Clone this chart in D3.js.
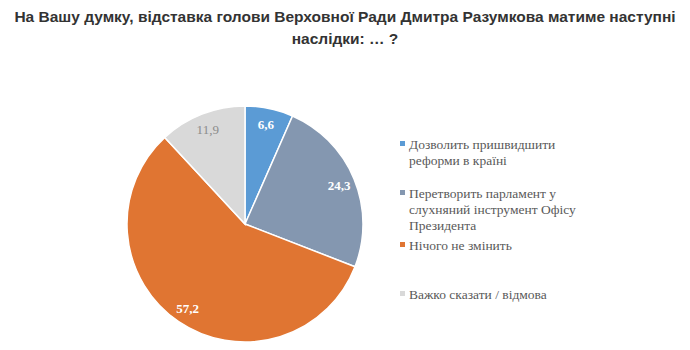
<!DOCTYPE html>
<html><head><meta charset="utf-8">
<script src="https://cdn.jsdelivr.net/npm/d3@7"></script>
<style>body{margin:0;background:#fff}</style>
</head><body>
<svg id="chart" width="690" height="350"></svg>
<script>
const categories = ["Дозволить пришвидшити реформи в країні","Перетворить парламент у слухняний інструмент Офісу Президента","Нічого не змінить","Важко сказати / відмова"];
const legendLines = [["Дозволить пришвидшити","реформи в країні"],["Перетворить парламент у","слухняний інструмент Офісу","Президента"],["Нічого не змінить"],["Важко сказати / відмова"]];
const values = [6.6, 24.3, 57.2, 11.9];
const valueLabels = ["6,6","24,3","57,2","11,9"];
const colors = ["#5b9bd5","#8497b0","#e07532","#d9d9d9"];
const labelColors = ["#fff","#fff","#fff","#8c8c8c"];
const titleLines = ["На Вашу думку, відставка голови Верховної Ради Дмитра Разумкова матиме наступні","наслідки: … ?"];

const svg = d3.select("#chart");
svg.selectAll("text.title").data(titleLines).join("text").attr("class","title")
  .attr("x",345).attr("y",(d,i)=>22+i*22).attr("text-anchor","middle")
  .attr("font-family","Liberation Sans, Arial, sans-serif").attr("font-weight","bold")
  .attr("font-size",15.5).attr("fill","#333").text(d=>d);

const cx=245, cy=224, r=118;
const pie = d3.pie().sort(null).value(d=>d)(values);
const arc = d3.arc().innerRadius(0).outerRadius(r);
const labelArc = d3.arc().innerRadius(102).outerRadius(102);
const g = svg.append("g").attr("transform",`translate(${cx},${cy})`);
g.selectAll("path").data(pie).join("path").attr("d",arc)
  .attr("fill",(d,i)=>colors[i]).attr("stroke","#fff").attr("stroke-width",1.5);
g.selectAll("text").data(pie).join("text")
  .attr("transform",d=>`translate(${labelArc.centroid(d)})`)
  .attr("text-anchor","middle").attr("dy","0.35em")
  .attr("font-family","Liberation Serif, Times New Roman, serif")
  .attr("font-weight",(d,i)=>i===3?"normal":"bold").attr("font-size",13)
  .attr("fill",(d,i)=>labelColors[i]).text((d,i)=>valueLabels[i]);

const legendY=[144,193,245,294];
const lg = svg.append("g");
legendLines.forEach((lines,i)=>{
  lg.append("rect").attr("x",400).attr("y",legendY[i]-3).attr("width",5).attr("height",5).attr("fill",colors[i]);
  lines.forEach((t,j)=>{
    lg.append("text").attr("x",409).attr("y",legendY[i]+j*16).attr("dy","0.35em")
      .attr("font-family","Liberation Serif, Times New Roman, serif").attr("font-size",13.5)
      .attr("fill","#595959").text(t);
  });
});
</script>
</body></html>
